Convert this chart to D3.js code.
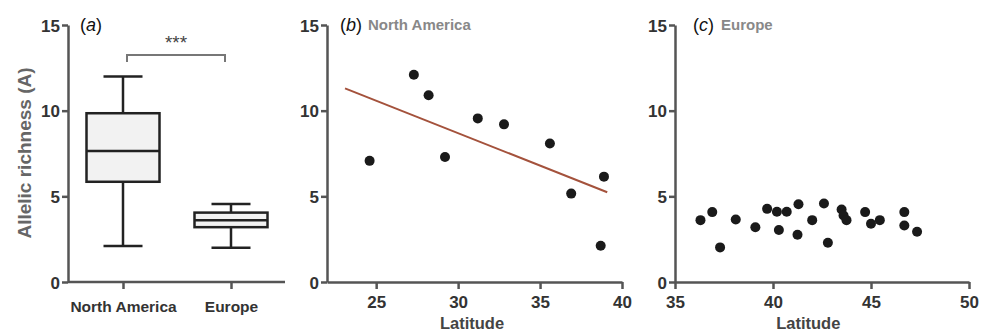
<!DOCTYPE html>
<html>
<head>
<meta charset="utf-8">
<script src="https://cdn.jsdelivr.net/npm/d3@7"></script>
<style>
  body { margin: 0; background: #fff; }
  svg { font-family: "Liberation Sans", Arial, sans-serif; }
</style>
</head>
<body>
<script>
// panel (a) box plot summaries
const groups = ["North America", "Europe"];
const boxMin = [2.1, 2.0];
const boxQ1 = [5.85, 3.2];
const boxMed = [7.65, 3.6];
const boxQ3 = [9.85, 4.05];
const boxMax = [12.0, 4.55];

// panel (b) North America
const naLat = [24.6, 27.3, 28.2, 29.2, 31.2, 32.8, 35.6, 36.9, 38.9, 38.7];
const naA = [7.07, 12.1, 10.9, 7.3, 9.55, 9.2, 8.08, 5.16, 6.15, 2.12];
const naFit = [[23.1, 11.3], [39.1, 5.24]];

// panel (c) Europe
const euLat = [36.3, 36.9, 37.3, 38.1, 39.1, 39.7, 40.2, 40.7, 40.3, 41.3, 41.25, 42.0,
               42.6, 42.8, 43.5, 43.6, 43.75, 44.7, 45.0, 45.45, 46.7, 46.7, 47.35];
const euA = [3.61, 4.08, 2.02, 3.65, 3.2, 4.27, 4.1, 4.1, 3.03, 4.54, 2.76, 3.61,
             4.58, 2.29, 4.23, 3.88, 3.61, 4.08, 3.4, 3.61, 4.08, 3.3, 2.93];

const yTicks = [0, 5, 10, 15];

const svg = d3.select("body").append("svg")
  .attr("width", 981)
  .attr("height", 333);

const axisCol = "#555";
const textCol = "#333";
const plotTop = 25, plotBottom = 282;

const y = d3.scaleLinear().domain([0, 15]).range([plotBottom, plotTop]);

function styleAxis(g) {
  g.select(".domain").attr("stroke", axisCol).attr("stroke-width", 2.5);
  g.selectAll(".tick line").attr("stroke", axisCol).attr("stroke-width", 2.5);
  g.selectAll(".tick text")
    .attr("fill", textCol)
    .attr("font-weight", "bold")
    .attr("font-size", 17);
}

function yAxis(x0) {
  svg.append("g")
    .attr("transform", `translate(${x0},0)`)
    .call(d3.axisLeft(y).tickValues(yTicks).tickSize(6).tickSizeOuter(0).tickPadding(2))
    .call(styleAxis)
    .call(g => g.selectAll(".tick text").attr("dy", "0.36em"));
}

function xLabel(x) {
  svg.append("text").attr("x", x).attr("y", 329).attr("text-anchor", "middle")
    .attr("font-size", 16.5).attr("font-weight", "bold").attr("fill", "#444").text("Latitude");
}

function panelLabel(x, letter, title) {
  const t = svg.append("text").attr("x", x).attr("y", 31)
    .attr("font-size", 18).attr("fill", "#111");
  t.append("tspan").text("(");
  t.append("tspan").attr("font-style", "italic").text(letter);
  t.append("tspan").text(")");
  if (title) {
    svg.append("text").attr("x", x + 28).attr("y", 30)
      .attr("font-size", 15).attr("font-weight", "bold").attr("fill", "#888")
      .text(title);
  }
}

// ---------- panel (a) ----------
const boxCenters = [123, 231];
const xa = d3.scaleOrdinal().domain(groups).range(boxCenters);
const boxW = 73, capW = 39;

const xaAxis = svg.append("g")
  .attr("transform", `translate(0,${plotBottom})`)
  .call(d3.axisBottom(xa).tickSize(7).tickSizeOuter(0).tickPadding(12))
  .call(styleAxis)
  .call(g => g.selectAll(".tick text").attr("font-size", 15.5));
xaAxis.select(".domain").attr("d", "M68,0H285");

yAxis(68);

groups.forEach((gname, i) => {
  const cx = xa(gname);
  const g = svg.append("g").attr("stroke", "#222").attr("stroke-width", 2.5);
  g.append("line").attr("x1", cx).attr("x2", cx).attr("y1", y(boxMax[i])).attr("y2", y(boxQ3[i]));
  g.append("line").attr("x1", cx).attr("x2", cx).attr("y1", y(boxQ1[i])).attr("y2", y(boxMin[i]));
  g.append("line").attr("x1", cx - capW / 2).attr("x2", cx + capW / 2).attr("y1", y(boxMax[i])).attr("y2", y(boxMax[i]));
  g.append("line").attr("x1", cx - capW / 2).attr("x2", cx + capW / 2).attr("y1", y(boxMin[i])).attr("y2", y(boxMin[i]));
  g.append("rect").attr("x", cx - boxW / 2).attr("width", boxW)
    .attr("y", y(boxQ3[i])).attr("height", y(boxQ1[i]) - y(boxQ3[i]))
    .attr("fill", "#f2f2f2");
  g.append("line").attr("x1", cx - boxW / 2).attr("x2", cx + boxW / 2).attr("y1", y(boxMed[i])).attr("y2", y(boxMed[i]));
});

// significance bracket
svg.append("path")
  .attr("d", `M127,62 V55 H225 V62`)
  .attr("fill", "none").attr("stroke", "#777").attr("stroke-width", 2);
svg.append("text").attr("x", 176).attr("y", 49).attr("text-anchor", "middle")
  .attr("font-size", 19).attr("fill", "#444").text("***");

svg.append("text")
  .attr("transform", "translate(31,153) rotate(-90)")
  .attr("text-anchor", "middle")
  .attr("font-size", 19).attr("font-weight", "bold").attr("fill", "#666")
  .text("Allelic richness (A)");

panelLabel(80, "a", null);

// ---------- panel (b) ----------
const xb = d3.scaleLinear().domain([22, 40]).range([327, 622]);
svg.append("g")
  .attr("transform", `translate(0,${plotBottom})`)
  .call(d3.axisBottom(xb).tickValues([25, 30, 35, 40]).tickSize(7).tickSizeOuter(0).tickPadding(7))
  .call(styleAxis);
yAxis(327);

svg.append("line")
  .attr("x1", xb(naFit[0][0])).attr("y1", y(naFit[0][1]))
  .attr("x2", xb(naFit[1][0])).attr("y2", y(naFit[1][1]))
  .attr("stroke", "#a4523c").attr("stroke-width", 2);

svg.append("g").selectAll("circle")
  .data(naLat)
  .enter()
  .append("circle")
  .attr("cx", d => xb(d))
  .attr("cy", (d, i) => y(naA[i]))
  .attr("r", 5)
  .attr("fill", "#1a1a1a");

xLabel(xb(30.85));
panelLabel(340, "b", "North America");

// ---------- panel (c) ----------
const xc = d3.scaleLinear().domain([35, 50]).range([675, 969]);
svg.append("g")
  .attr("transform", `translate(0,${plotBottom})`)
  .call(d3.axisBottom(xc).tickValues([35, 40, 45, 50]).tickSize(7).tickSizeOuter(0).tickPadding(7))
  .call(styleAxis);
yAxis(675);

svg.append("g").selectAll("circle")
  .data(euLat)
  .enter()
  .append("circle")
  .attr("cx", d => xc(d))
  .attr("cy", (d, i) => y(euA[i]))
  .attr("r", 5)
  .attr("fill", "#1a1a1a");

xLabel(xc(41.8));
panelLabel(693, "c", "Europe");
</script>
</body>
</html>
